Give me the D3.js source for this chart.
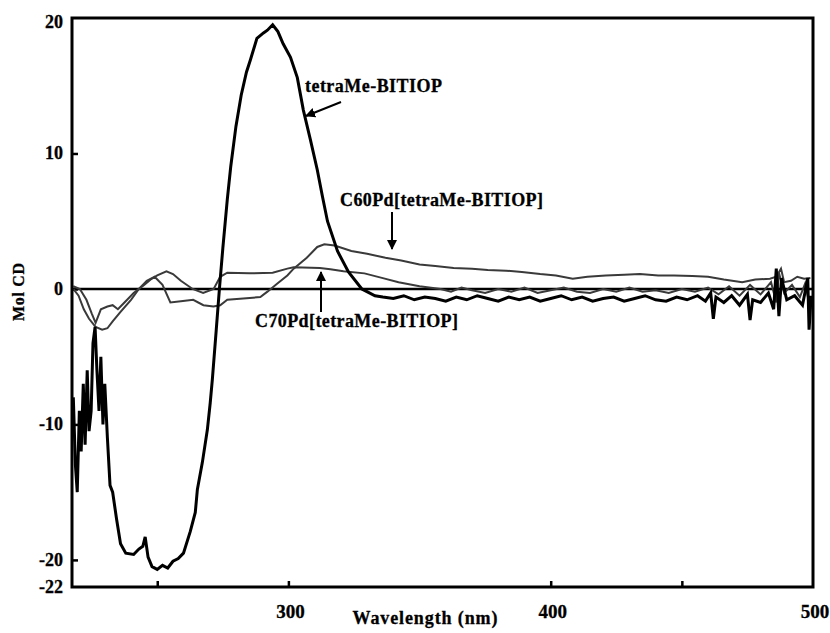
<!DOCTYPE html>
<html>
<head>
<meta charset="utf-8">
<script src="https://cdn.jsdelivr.net/npm/d3@7"></script>
<style>
  body { margin: 0; background: white; }
  text { font-family: "Liberation Serif", "DejaVu Serif", serif; font-weight: bold; fill: black; stroke: black; stroke-width: 0.3px; }
</style>
</head>
<body>
<div id="chart"></div>
<script>
// [wavelength nm, Mol CD]
var tetraMe = [
  [218, -8], [218.8, -13], [219.5, -15], [220.3, -9], [221, -12], [221.8, -7], [222.5, -11.5],
  [223.3, -6], [224, -10.5], [224.8, -9], [225.5, -4], [226.3, -2.8], [227, -6], [227.8, -9],
  [228.5, -5], [229.3, -10], [230, -7], [231, -11], [232, -14.5], [233, -15], [234.5, -17],
  [236, -18.8], [238, -19.5], [241, -19.6], [243, -19.2], [244.5, -19], [245.4, -18.3],
  [246.5, -19.8], [248, -20.5], [250, -20.7], [252, -20.4], [254, -20.6], [256, -20.1],
  [258, -19.9], [260, -19.5], [262.6, -17.9], [264.5, -16.5], [265.3, -14.8], [267.2, -12.8],
  [269.1, -10.4], [270.2, -8.4], [271, -6.7], [272.5, -3], [273.7, 0], [275, 3], [276.7, 6.6],
  [278, 9], [280, 12], [282, 14.3], [284, 16], [285.5, 16.9], [288, 18.5], [290.5, 18.9],
  [292, 19.1], [294, 19.5], [296, 19], [298, 18.1], [300.8, 17.1], [303.4, 15.6], [305.7, 13.2],
  [308.4, 11], [311, 8.8], [313, 6.8], [314.9, 5], [318.7, 2.8], [322.9, 1.25], [328, 0],
  [333, -0.5], [336, -0.6], [340, -0.7], [344, -0.5], [348, -0.8], [352, -0.6], [356, -0.7],
  [360, -0.9], [364, -0.6], [368, -0.8], [372, -0.5], [376, -0.7], [380, -0.9], [384, -0.6],
  [388, -0.8], [392, -0.6], [396, -0.9], [400, -0.7], [404, -0.5], [408, -0.8], [412, -0.6],
  [416, -0.9], [420, -0.7], [424, -0.6], [428, -0.9], [432, -0.7], [436, -0.5], [440, -0.8],
  [444, -0.9], [448, -0.6], [452, -0.8], [456, -0.5], [459, -0.9], [461, -0.3], [462, -2.2],
  [463, -0.6], [466, -1], [469, -0.5], [472, -1.2], [475, -0.4], [476, -2.3], [477, -0.8],
  [480, -1], [483, -0.3], [485, -1.5], [486, 1.5], [487, -2], [488, 0.8], [490, -0.8],
  [493, -0.5], [496, -1.2], [498, 0.8], [498.5, -3], [499.3, -0.5]
];

var c60 = [
  [218, 0], [220, -0.5], [222, -1.5], [224, -2.2], [226.5, -2.8], [229, -3], [231, -2.9],
  [233, -2.4], [236, -1.7], [240, -0.8], [243, 0], [246, 0.6], [249, 0.9], [252, 0.3],
  [255, -1], [259, -0.9], [263.7, -0.8], [267.6, -1.2], [271.4, -1.3], [274, -1.2],
  [276.7, -0.8], [282.8, -0.7], [289.3, -0.6], [292, -0.2], [295.8, 0.4], [299.6, 1],
  [302, 1.5], [307, 2.3], [311, 3.1], [313.7, 3.3], [317.6, 3.2], [324, 2.8], [330, 2.6],
  [337, 2.3], [343, 2.1], [350, 1.8], [356, 1.7], [363, 1.55], [370, 1.5], [376, 1.4],
  [383, 1.35], [389, 1.25], [396, 1.1], [402, 1], [408.4, 0.75], [414, 0.9], [421, 1],
  [428, 1.05], [434, 1.1], [441, 1], [447, 1], [454, 0.95], [460, 0.9], [466, 0.7],
  [473, 0.5], [478, 0.7], [483.6, 0.75], [486, 0.9], [487.8, 1.5], [489, 0.5], [491.6, 0.6],
  [494, 0.9], [496.6, 0.75], [499, 0.8]
];

var c70 = [
  [218, 0.2], [220.5, 0], [223, -0.8], [225, -1.8], [226.5, -2.5], [228.5, -1.5], [231, -1.3],
  [233, -1.2], [235, -1.5], [237.5, -1], [241, -0.3], [245, 0.3], [247.5, 0.7], [250, 1],
  [253.5, 1.3], [256, 1.1], [259, 0.6], [263.5, 0], [267.5, -0.3], [271.5, 0], [274, 0.9],
  [276.7, 1.2], [285, 1.15], [294, 1.2], [299.6, 1.5], [302, 1.6], [312, 1.55], [316, 1.45],
  [321, 1.3], [329, 1.15], [336, 0.8], [342, 0.5], [350, 0.2], [358, 0], [362, -0.2],
  [366, 0.1], [370, -0.1], [375, -0.3], [380, 0], [385, -0.2], [390, 0.1], [395, -0.3],
  [400, -0.1], [405, 0.1], [410, -0.2], [415, -0.3], [420, 0], [425, -0.2], [430, 0.1],
  [435, -0.2], [440, -0.1], [445, -0.3], [450, 0], [455, -0.2], [460, 0.1], [464, -0.4],
  [468, 0.2], [472, -0.5], [476, 0.3], [480, -0.4], [484, 0.5], [486, -1], [487, 1.2],
  [489, -0.3], [492, 0.3], [495, -0.6], [497, 0.4], [499, -1.5]
];

var xTicks = [250, 300, 400, 450];
var xLabels = [300, 400, 500];
var yTicks = [10, 0, -10, -20];
var yLabels = [20, 10, 0, -10, -20, -22];

var w = 830;
var h = 633;
var padL = 72, padR = 813, padT = 18, padB = 587;

var svg = d3.select("#chart")
  .append("svg")
  .attr("width", w)
  .attr("height", h);

var xScale = d3.scaleLinear()
  .domain([217.5, 500])
  .range([padL, padR]);

var yScale = d3.scaleLinear()
  .domain([-22, 20])
  .range([padB, padT]);

// ticks pointing into the plot
svg.append("g")
  .attr("transform", "translate(0," + padB + ")")
  .call(d3.axisBottom(xScale).tickValues(xTicks).tickSize(-6).tickFormat(""))
  .call(function(g) { g.select(".domain").remove(); })
  .selectAll("line")
    .attr("stroke", "black")
    .attr("stroke-width", 2.5);

svg.append("g")
  .attr("transform", "translate(" + padL + ",0)")
  .call(d3.axisLeft(yScale).tickValues(yTicks).tickSize(-6).tickFormat(""))
  .call(function(g) { g.select(".domain").remove(); })
  .selectAll("line")
    .attr("stroke", "black")
    .attr("stroke-width", 2.5);

svg.selectAll("text.xlab")
  .data(xLabels)
  .enter()
  .append("text")
  .attr("class", "xlab")
  .attr("x", function(d) { return xScale(d) + 2; })
  .attr("y", 618)
  .attr("text-anchor", "middle")
  .style("font-size", "19px")
  .text(function(d) { return d; });

svg.selectAll("text.ylab")
  .data(yLabels)
  .enter()
  .append("text")
  .attr("class", "ylab")
  .attr("x", 63)
  .attr("y", function(d) {
    return d == 20 ? yScale(d) + 10 : yScale(d) + 6;
  })
  .attr("text-anchor", "end")
  .style("font-size", "18px")
  .text(function(d) { return d; });

svg.append("text")
  .attr("x", 425)
  .attr("y", 624)
  .attr("text-anchor", "middle")
  .attr("textLength", 145)
  .style("font-size", "18px")
  .text("Wavelength (nm)");

svg.append("text")
  .attr("transform", "translate(24,292) rotate(-90)")
  .attr("text-anchor", "middle")
  .attr("textLength", 58)
  .style("font-size", "16px")
  .text("Mol CD");

// zero line
svg.append("line")
  .attr("x1", padL)
  .attr("x2", padR)
  .attr("y1", yScale(0))
  .attr("y2", yScale(0))
  .attr("stroke", "black")
  .attr("stroke-width", 2.5);

var line = d3.line()
  .x(function(d) { return xScale(d[0]); })
  .y(function(d) { return yScale(d[1]); });

svg.append("path")
  .datum(c70)
  .attr("d", line)
  .attr("fill", "none")
  .attr("stroke", "#3a3a3a")
  .attr("stroke-width", 2);

svg.append("path")
  .datum(c60)
  .attr("d", line)
  .attr("fill", "none")
  .attr("stroke", "#3a3a3a")
  .attr("stroke-width", 2);

svg.append("path")
  .datum(tetraMe)
  .attr("d", line)
  .attr("fill", "none")
  .attr("stroke", "black")
  .attr("stroke-width", 3);

// frame
svg.append("rect")
  .attr("x", padL)
  .attr("y", padT)
  .attr("width", padR - padL)
  .attr("height", padB - padT)
  .attr("fill", "none")
  .attr("stroke", "black")
  .attr("stroke-width", 3);

// annotations
svg.append("defs").append("marker")
  .attr("id", "head")
  .attr("viewBox", "0 0 10 10")
  .attr("refX", 9)
  .attr("refY", 5)
  .attr("markerWidth", 5)
  .attr("markerHeight", 5)
  .attr("orient", "auto")
  .append("path")
    .attr("d", "M0,0L10,5L0,10z")
    .attr("fill", "black");

var notes = [
  { text: "tetraMe-BITIOP", x: 305, y: 92, len: 137, x1: 341, y1: 102, x2: 306, y2: 116 },
  { text: "C60Pd[tetraMe-BITIOP]", x: 340, y: 206, len: 203, x1: 392, y1: 212, x2: 392, y2: 249 },
  { text: "C70Pd[tetraMe-BITIOP]", x: 255, y: 327, len: 203, x1: 321, y1: 312, x2: 321, y2: 272 }
];

svg.selectAll("text.note")
  .data(notes)
  .enter()
  .append("text")
  .attr("class", "note")
  .attr("x", function(d) { return d.x; })
  .attr("y", function(d) { return d.y; })
  .attr("textLength", function(d) { return d.len; })
  .style("font-size", "18px")
  .text(function(d) { return d.text; });

svg.selectAll("line.arrow")
  .data(notes)
  .enter()
  .append("line")
  .attr("class", "arrow")
  .attr("x1", function(d) { return d.x1; })
  .attr("y1", function(d) { return d.y1; })
  .attr("x2", function(d) { return d.x2; })
  .attr("y2", function(d) { return d.y2; })
  .attr("stroke", "black")
  .attr("stroke-width", 2)
  .attr("marker-end", "url(#head)");
</script>
</body>
</html>
